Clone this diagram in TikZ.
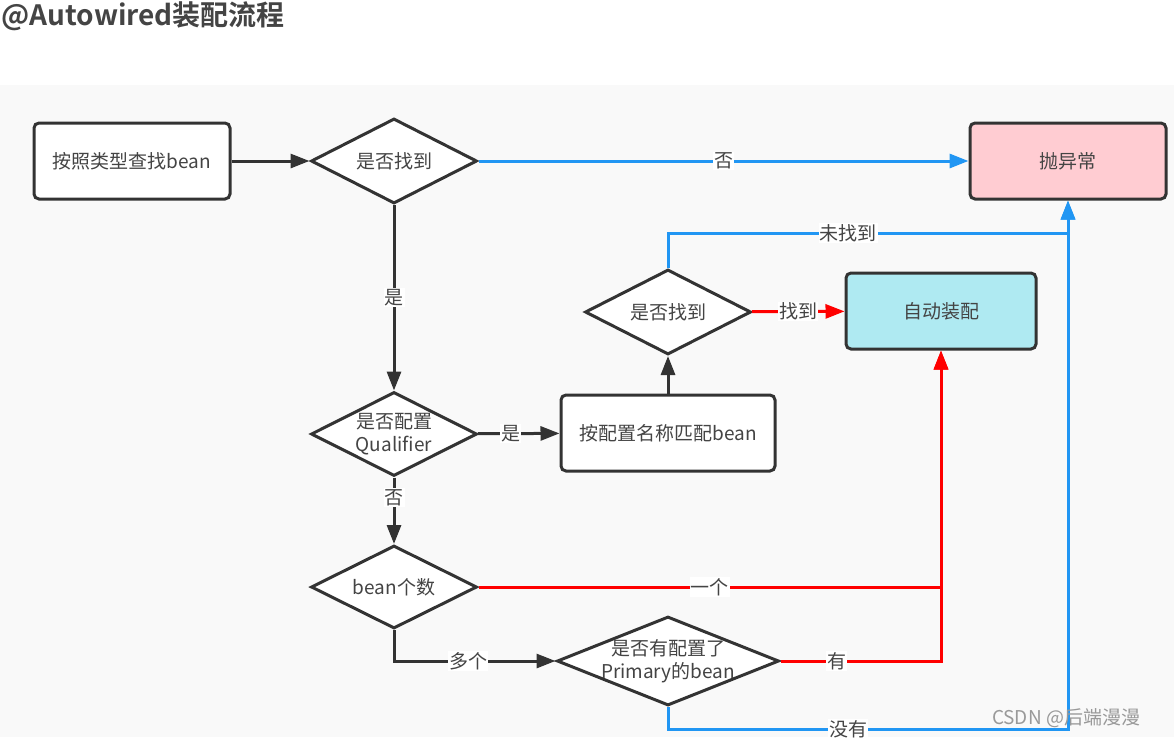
\documentclass[tikz,border=0pt]{standalone}
\usepackage{fontspec}
\newfontfamily\cjk{Noto Sans CJK SC}[BoldFont={Noto Sans CJK SC Bold}]
\usetikzlibrary{shapes.geometric,arrows.meta}
\definecolor{ink}{HTML}{333333}
\definecolor{txt}{HTML}{444444}
\definecolor{lineblue}{HTML}{2196F3}
\definecolor{linered}{HTML}{FF0000}
\definecolor{failpink}{HTML}{FFCCD2}
\definecolor{okcyan}{HTML}{AFEAF2}
\definecolor{canvas}{HTML}{F9F9F9}
\begin{document}
\begin{tikzpicture}[x=1pt,y=-1pt,
            every node/.style = {font=\cjk\fontsize{19}{23.5}\selectfont, text=txt},
            box/.style = {draw=ink, line width=3pt, rounded corners=5pt,
                        fill=white, minimum width=196pt, minimum height=76pt},
            dia/.style = {diamond, draw=ink, line width=3pt, fill=white,
                        inner sep=0pt, minimum width=166pt, minimum height=85pt,
                        label={[align=center]center:#1}},
            lbl/.style = {fill=white, inner sep=1pt},
            flow/.style = {draw=ink, line width=3pt,
                        -{Triangle[length=19pt,width=14pt]}},
            redflow/.style = {flow, draw=linered},
            blueflow/.style = {flow, draw=lineblue}]
            \useasboundingbox (0,0) rectangle (1174,737);
            \fill[canvas] (0,85) rectangle (1174,737);
            % Title
            \node[font=\cjk\bfseries\fontsize{28}{30}\selectfont, anchor=west] (title) at (-2,16) {@Autowired装配流程};
            % Boxes
            \node[box] (bytype) at (132,161) {按照类型查找bean};
            \node[box, fill=failpink] (throw) at (1068,161) {抛异常};
            \node[box, fill=okcyan, minimum width=190pt] (inject) at (941,311) {自动装配};
            \node[box, minimum width=214pt] (byname) at (668,433) {按配置名称匹配bean};
            % Decisions
            \node[dia=是否找到] (found) at (394,161) {};
            \node[dia=是否找到] (foundname) at (668,312) {};
            \node[dia={是否配置\\Qualifier}, minimum height=84pt] (qualifier) at (394,434) {};
            \node[dia=bean个数, minimum height=83pt] (count) at (394,587) {};
            \node[dia={是否有配置了\\Primary的bean}, minimum width=222pt, minimum height=89pt] (primary) at (668,661) {};
            % Connectors
            \draw[flow] (bytype) -- (found);
            \draw[blueflow] (found) -- node[lbl] {否} (throw);
            \draw[flow] (found) -- node[lbl] {是} (qualifier);
            \draw[flow] (qualifier) -- node[lbl, pos=0.4] {是} (byname);
            \draw[flow] (qualifier) -- node[lbl, pos=0.3] {否} (count);
            \draw[flow] (byname) -- (foundname);
            \draw[redflow] (foundname) -- node[lbl] {找到} (inject);
            \draw[blueflow] (foundname.north) -- ++(0,-35) -| node[lbl, pos=0.225] {未找到} (throw.south);
            \draw[redflow] (count.east) -| node[lbl, pos=0.25] {一个} (inject.south);
            \draw[flow] (count.south) |- node[lbl, pos=0.73] {多个} (primary.west);
            \draw[redflow] (primary.east) -| node[lbl, pos=0.175] {有} (inject.south);
            \draw[blueflow] (primary.south) -- ++(0,22) -| node[lbl, pos=0.225] {没有} (throw.south);
            % Watermark
            \node[text=gray!80, font=\cjk\fontsize{19}{20}\selectfont] (mark) at (1066,718) {CSDN @后端漫漫};
        \end{tikzpicture}
\end{document}
